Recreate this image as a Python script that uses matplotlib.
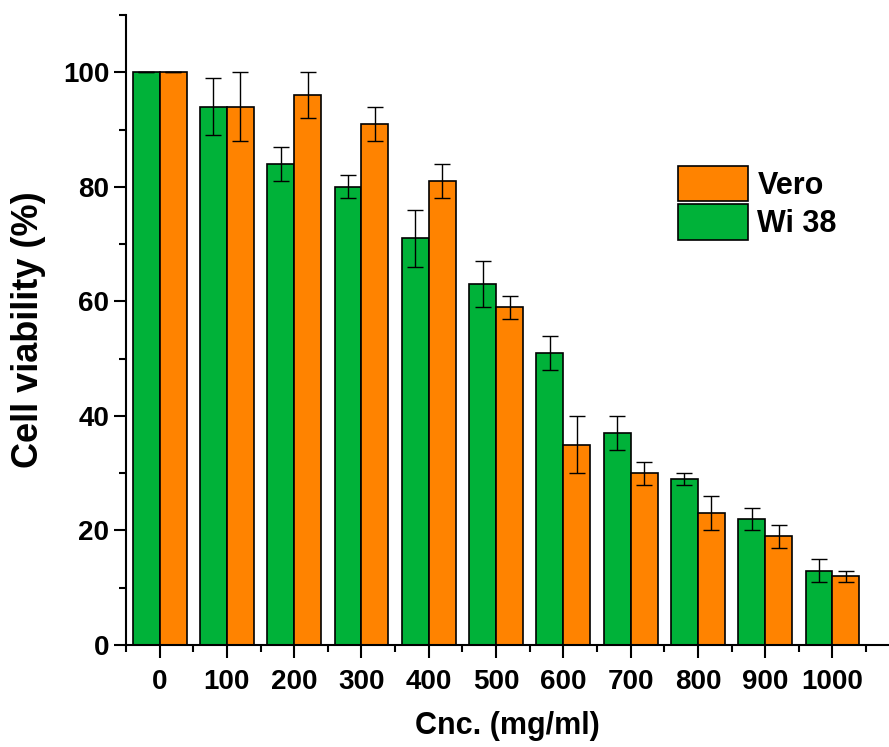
import matplotlib
matplotlib.use("Agg")
import matplotlib.pyplot as plt
import numpy as np
from matplotlib.ticker import MultipleLocator

categories = ["0", "100", "200", "300", "400", "500", "600", "700", "800", "900", "1000"]
wi38 = [100, 94, 84, 80, 71, 63, 51, 37, 29, 22, 13]
wi38_err = [0, 5, 3, 2, 5, 4, 3, 3, 1, 2, 2]
vero = [100, 94, 96, 91, 81, 59, 35, 30, 23, 19, 12]
vero_err = [0, 6, 4, 3, 3, 2, 5, 2, 3, 2, 1]

plt.rcParams['font.family'] = ['Liberation Sans', 'DejaVu Sans']
plt.rcParams['font.weight'] = 'bold'

fig = plt.figure(figsize=(8.89, 7.47), dpi=100)
ax = fig.add_axes([126/889, 102/747, (889-126)/889, (645-15)/747])

x = np.arange(len(categories))
w = 0.4
green = "#00B239"
orange = "#FF8300"
ekw = dict(elinewidth=1.0, capthick=1.0, ecolor="black")
bg = ax.bar(x - w/2, wi38, w, color=green, edgecolor="black", linewidth=1.2,
            yerr=wi38_err, capsize=6, error_kw=ekw, label="Wi 38")
bo = ax.bar(x + w/2, vero, w, color=orange, edgecolor="black", linewidth=1.2,
            yerr=vero_err, capsize=6, error_kw=ekw, label="Vero")

ax.set_xlim(-0.5, 10.84)
ax.set_ylim(0, 110)
ax.set_xticks(x)
ax.set_xticklabels(categories)
ax.xaxis.set_minor_locator(MultipleLocator(1, offset=0.5))
ax.yaxis.set_major_locator(MultipleLocator(20))
ax.yaxis.set_minor_locator(MultipleLocator(10))
ax.spines['top'].set_visible(False)
ax.spines['right'].set_visible(False)
ax.spines['left'].set_linewidth(1.5)
ax.spines['bottom'].set_linewidth(1.5)
ax.tick_params(axis='both', which='major', direction='out', length=9, width=1.5,
               labelsize=20, pad=3)
ax.tick_params(axis='x', which='major', pad=8)
ax.tick_params(axis='both', which='minor', direction='out', length=5, width=1.5)
for lab in ax.get_xticklabels() + ax.get_yticklabels():
    lab.set_fontweight('bold')

ax.set_xlabel("Cnc. (mg/ml)", fontsize=22, fontweight='bold', labelpad=12)
ax.set_ylabel("Cell viability (%)", fontsize=26, fontweight='bold', labelpad=12)

leg = ax.legend(handles=[bo, bg], labels=["Vero", "Wi 38"], loc='upper left',
                bbox_to_anchor=(678/889, 1 - 166/747), bbox_transform=fig.transFigure,
                frameon=False, fontsize=22, handlelength=2.3, handleheight=1.4,
                labelspacing=0.1, handletextpad=0.3, borderaxespad=0, borderpad=0)
for t in leg.get_texts():
    t.set_fontweight('bold')

fig.savefig("out.png", dpi=100)
